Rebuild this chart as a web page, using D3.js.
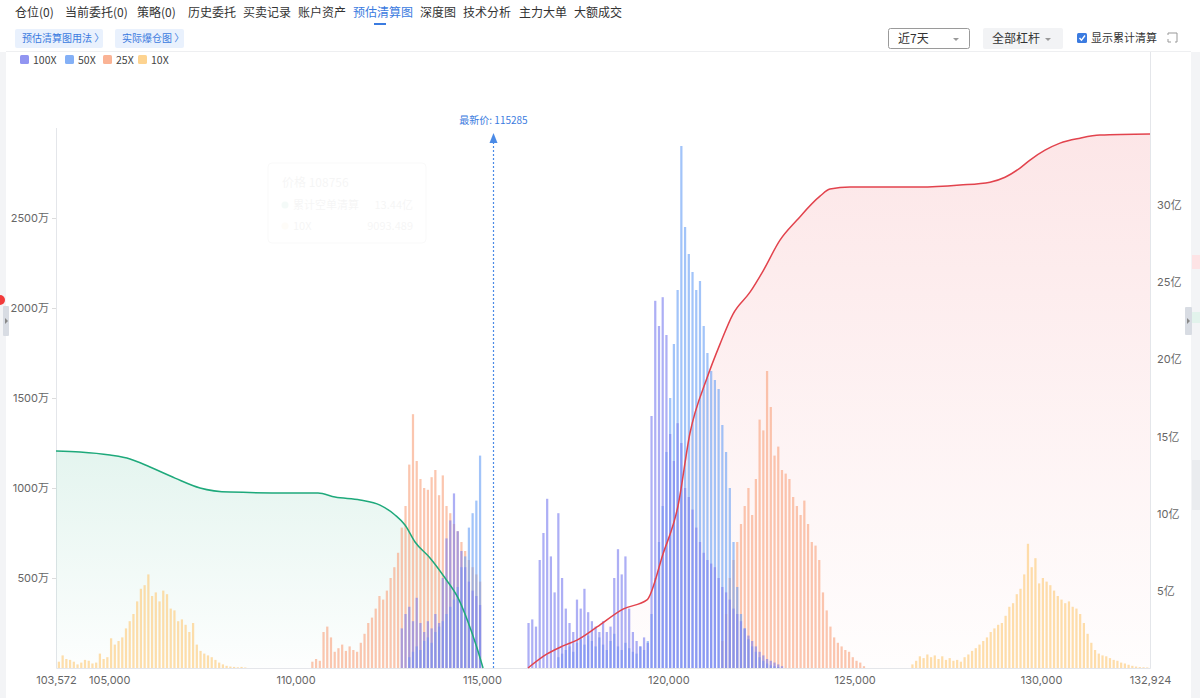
<!DOCTYPE html>
<html>
<head>
<meta charset="utf-8">
<script src="https://cdn.jsdelivr.net/npm/d3@7"></script>
<style>
  body { margin: 0; background: #fff; font-family: "Noto Sans CJK SC", "Noto Sans", sans-serif; }
</style>
</head>
<body>
<svg id="chart" width="1200" height="698"></svg>
<script>
// ---- data (liquidation amount per $100 price bin, 万) ----
var binStep = 100;

var lev100Lo_start = 112800;
var lev100Lo = [220,300,340,260,390,250,200,260,220,300,250,500,720,820,970,760,650,560,480,430,400,350];
var lev100Hi_start = 116200;
var lev100Hi = [250,270,230,600,750,940,620,420,860,500,330,250,200,380,330,440,310,260,230,200,
                260,200,230,500,660,520,620,330,200,150,120,170,140,1400,2040,1900,2060,1850,1300,1150,
                1360,1250,1000,950,880,780,700,640,600,580,560,500,450,420,380,330,300,260,220,180,
                150,120,90,70,50,40,30,20,10];

var lev50Lo_start = 113000;
var lev50Lo = [60,90,120,100,150,170,140,200,230,260,300,340,380,450,560,620,780,860,930,1180];
var lev50Hi_start = 117000;
var lev50Hi = [60,80,100,120,90,140,160,130,180,150,120,170,130,100,150,190,120,100,140,110,
               90,80,120,100,150,300,500,700,900,1200,1500,1800,2100,2900,2450,2300,2200,2100,2150,1900,
               1750,1650,1600,1550,1350,1200,1000,700,450,300,220,160,120,90,60,40,25,15,10,5];

var lev25Lo_start = 110400;
var lev25Lo = [35,50,40,200,230,170,90,110,130,95,120,100,90,140,190,250,280,330,400,380,
               430,500,560,640,780,900,1130,1410,1150,1050,1000,990,1060,1100,960,1070,900,860,800,760,
               700,650,600,560,520,480];
var lev25Hi_start = 121400;
var lev25Hi = [150,300,500,600,700,800,900,1000,850,1050,1380,1320,1650,1450,1180,1230,1100,1080,1050,950,
               900,850,930,800,700,680,600,420,320,230,170,140,120,100,90,60,40,30,10];

var lev10Lo_start = 103600;
var lev10Lo = [35,70,50,45,35,20,30,45,40,25,30,80,50,60,165,130,150,170,220,260,
               300,370,440,460,520,400,420,370,430,410,330,320,260,270,240,200,250,130,95,80,
               70,60,45,30,20,12,8,6,4,6,3];
var lev10Hi_start = 126500;
var lev10Hi = [20,40,65,55,75,60,70,50,65,45,55,40,45,35,60,75,95,110,130,150,
               170,200,220,240,250,290,340,360,410,440,520,690,560,610,470,500,480,460,430,400,
               380,360,370,340,330,300,250,190,140,100,80,70,65,55,45,40,30,25,18,12,
               8,5,4,3];

// cumulative liquidation (亿)
var shortCumPrice = [103572,104216,105021,105558,106094,106765,107436,108241,109851,110602,111058,111729,112265,112668,112936,113205,113607,114010,114359,114627,114842,115030];
var shortCumValue = [14.06,14.0,13.8,13.55,13.03,12.31,11.67,11.4,11.34,11.34,11.08,10.89,10.56,9.92,9.27,8.17,7.13,5.83,4.54,2.98,1.49,0];

var longCumPrice = [116236,116746,117175,117550,118087,118785,119428,119858,120260,120582,121038,121387,121736,122192,122541,122997,123453,124070,124338,124875,125680,126753,127826,128631,129034,129436,129704,130107,130509,131046,131582,132924];
var longCumValue = [0,0.91,1.43,1.81,2.66,3.82,4.41,7.39,10.5,15.23,18.79,20.99,22.94,24.36,25.73,27.73,29.03,30.58,31.04,31.17,31.17,31.17,31.3,31.49,31.81,32.4,32.92,33.56,34.02,34.34,34.54,34.61];

var latestPrice = 115285;
var priceTicks = [103572,105000,110000,115000,120000,125000,130000,132924];
var leftTicks = [500,1000,1500,2000,2500];
var rightTicks = [5,10,15,20,25,30];

var tabs = ["仓位(0)","当前委托(0)","策略(0)","历史委托","买卖记录","账户资产","预估清算图","深度图","技术分析","主力大单","大额成交"];
var tabX = [15,65,137,188,243,298,353,420,463,519,574];

var legendNames = ["100X","50X","25X","10X"];
var colors = { "100X": "#7e82ef", "50X": "#6ea2f5", "25X": "#f9a682", "10X": "#fdcb7c" };

// ---- svg ----
var svg = d3.select("#chart");
var defs = svg.append("defs");

// side strips
svg.append("rect").attr("x", 0).attr("y", 52).attr("width", 6).attr("height", 646).attr("fill", "#f3f4f6");
svg.append("rect").attr("x", 1191).attr("y", 52).attr("width", 9).attr("height", 646).attr("fill", "#f3f4f6");
svg.append("rect").attr("x", 1192).attr("y", 255).attr("width", 8).attr("height", 14).attr("fill", "#fde3e5");
svg.append("rect").attr("x", 1192).attr("y", 312).attr("width", 8).attr("height", 11).attr("fill", "#e2f3ec");
svg.append("rect").attr("x", 1192).attr("y", 460).attr("width", 8).attr("height", 50).attr("fill", "#eaecef");
svg.append("rect").attr("x", 1185).attr("y", 307).attr("width", 7).attr("height", 28).attr("rx", 1).attr("fill", "#d8dce3");
svg.append("path").attr("d", "M1187,318 L1190,321 L1187,324 Z").attr("fill", "#888");
svg.append("rect").attr("x", 3).attr("y", 306).attr("width", 6).attr("height", 30).attr("rx", 1).attr("fill", "#d8dce3");
svg.append("path").attr("d", "M5,318 L8,321 L5,324 Z").attr("fill", "#888");
svg.append("circle").attr("cx", 0).attr("cy", 300).attr("r", 5).attr("fill", "#f23b3b");

// tab bar
svg.selectAll("text.tab")
    .data(tabs)
    .enter()
    .append("text")
    .attr("class", "tab")
    .attr("x", function(d, i) { return tabX[i]; })
    .attr("y", 17)
    .attr("font-size", "12px")
    .attr("fill", function(d) { return d == "预估清算图" ? "#3b7be0" : "#333"; })
    .text(function(d) { return d; });
svg.append("rect").attr("x", 374).attr("y", 23).attr("width", 12).attr("height", 2).attr("fill", "#3b7be0");

// link buttons
[["预估清算图用法 〉", 15, 88], ["实际爆仓图 〉", 115, 69]].forEach(function(b) {
  svg.append("rect").attr("x", b[1]).attr("y", 29).attr("width", b[2]).attr("height", 19).attr("rx", 2).attr("fill", "#e9f1fd");
  svg.append("text").attr("x", b[1] + 7).attr("y", 42).attr("font-size", "10px").attr("fill", "#3b7be0").text(b[0]);
});
svg.append("line").attr("x1", 6).attr("x2", 1191).attr("y1", 51.5).attr("y2", 51.5).attr("stroke", "#eeeff1");

// right controls
svg.append("rect").attr("x", 888.5).attr("y", 28.5).attr("width", 81).attr("height", 20).attr("rx", 2).attr("fill", "#fff").attr("stroke", "#9a9a9a");
svg.append("text").attr("x", 898).attr("y", 43).attr("font-size", "12px").attr("fill", "#333").text("近7天");
svg.append("path").attr("d", "M953,38 L959,38 L956,41 Z").attr("fill", "#999");
svg.append("rect").attr("x", 983).attr("y", 28).attr("width", 80).attr("height", 21).attr("rx", 2).attr("fill", "#f2f3f5");
svg.append("text").attr("x", 992).attr("y", 43).attr("font-size", "12px").attr("fill", "#333").text("全部杠杆");
svg.append("path").attr("d", "M1045,38 L1051,38 L1048,41 Z").attr("fill", "#999");
svg.append("rect").attr("x", 1077).attr("y", 33).attr("width", 10).attr("height", 10).attr("rx", 1.5).attr("fill", "#3b7be0");
svg.append("path").attr("d", "M1079.5,38 L1081.5,40.2 L1085,35.5").attr("fill", "none").attr("stroke", "#fff").attr("stroke-width", 1.4);
svg.append("text").attr("x", 1091).attr("y", 42).attr("font-size", "11px").attr("fill", "#333").text("显示累计清算");
svg.append("path").attr("d", "M1168,35 L1168,33 L1177,33 L1177,42 L1175,42 M1168,39 L1168,42 L1171,42")
    .attr("fill", "none").attr("stroke", "#999").attr("stroke-width", 1);

// legend
var legX = [20, 65, 103, 138];
var leg = svg.selectAll("g.leg")
    .data(legendNames)
    .enter()
    .append("g")
    .attr("class", "leg")
    .attr("transform", function(d, i) { return "translate(" + legX[i] + ",55)"; });
leg.append("rect").attr("width", 9).attr("height", 9).attr("rx", 1.5).attr("fill", function(d) { return colors[d]; }).attr("opacity", 0.85);
leg.append("text").attr("x", 13).attr("y", 8.5).attr("font-size", "10.5px").attr("fill", "#444").text(function(d) { return d; });

// ---- scales ----
var x = d3.scaleLinear().domain([103572, 132924]).range([56, 1150]);
var yL = d3.scaleLinear().domain([0, 3000]).range([668, 128]);
var yR = d3.scaleLinear().domain([0, 35]).range([668, 128]);

// gradients
var gG = defs.append("linearGradient").attr("id", "gGreen").attr("gradientUnits", "userSpaceOnUse")
    .attr("x1", 0).attr("x2", 0).attr("y1", yR(14)).attr("y2", 668);
gG.append("stop").attr("offset", 0).attr("stop-color", "#1fa97a").attr("stop-opacity", 0.12);
gG.append("stop").attr("offset", 1).attr("stop-color", "#1fa97a").attr("stop-opacity", 0.01);
var gR = defs.append("linearGradient").attr("id", "gRed").attr("gradientUnits", "userSpaceOnUse")
    .attr("x1", 0).attr("x2", 0).attr("y1", yR(35)).attr("y2", 668);
gR.append("stop").attr("offset", 0).attr("stop-color", "#ec4c55").attr("stop-opacity", 0.14);
gR.append("stop").attr("offset", 1).attr("stop-color", "#ec4c55").attr("stop-opacity", 0.01);

// axes
var axL = svg.append("g").attr("transform", "translate(56,0)")
    .call(d3.axisLeft(yL).tickValues(leftTicks).tickSize(4).tickPadding(3).tickFormat(function(d) { return d + "万"; }));
var axR = svg.append("g").attr("transform", "translate(1150,0)")
    .call(d3.axisRight(yR).tickValues(rightTicks).tickSize(0).tickPadding(7).tickFormat(function(d) { return d + "亿"; }));
var axB = svg.append("g").attr("transform", "translate(0,668)")
    .call(d3.axisBottom(x).tickValues(priceTicks).tickSize(0).tickPadding(8).tickFormat(d3.format(",")));
[axL, axR, axB].forEach(function(a) {
  a.select(".domain").attr("stroke", "#e4e6ea");
  a.selectAll(".tick line").attr("stroke", "#dcdcdc");
  a.selectAll("text").attr("font-size", "11px").attr("fill", "#666").attr("font-family", "Inter, 'Noto Sans CJK SC', sans-serif");
});
axL.select(".domain").attr("d", "M0.5,128V668.5");
axR.select(".domain").attr("d", "M0.5,52V668.5");

// cumulative areas
function pts(ps, vs) { return ps.map(function(p, i) { return [p, vs[i]]; }); }
var shortPts = pts(shortCumPrice, shortCumValue);
var longPts = pts(longCumPrice, longCumValue);
var area = d3.area().x(function(d) { return x(d[0]); }).y0(668).y1(function(d) { return yR(d[1]); }).curve(d3.curveMonotoneX);
var line = d3.line().x(function(d) { return x(d[0]); }).y(function(d) { return yR(d[1]); }).curve(d3.curveMonotoneX);
svg.append("path").attr("d", area(shortPts)).attr("fill", "url(#gGreen)");
svg.append("path").attr("d", area(longPts)).attr("fill", "url(#gRed)");

// bars
function bins(start, vals) { return vals.map(function(v, i) { return { p: start + i * binStep, v: v }; }); }
var series = [
  ["10X", bins(lev10Lo_start, lev10Lo).concat(bins(lev10Hi_start, lev10Hi))],
  ["25X", bins(lev25Lo_start, lev25Lo).concat(bins(lev25Hi_start, lev25Hi))],
  ["50X", bins(lev50Lo_start, lev50Lo).concat(bins(lev50Hi_start, lev50Hi))],
  ["100X", bins(lev100Lo_start, lev100Lo).concat(bins(lev100Hi_start, lev100Hi))]
];
var bw = (x(binStep) - x(0)) * 0.6;
series.forEach(function(s) {
  svg.append("g").selectAll("rect")
    .data(s[1])
    .enter()
    .append("rect")
    .attr("x", function(d) { return x(d.p + binStep / 2) - bw / 2; })
    .attr("y", function(d) { return yL(d.v); })
    .attr("width", bw)
    .attr("height", function(d) { return 668 - yL(d.v); })
    .attr("fill", colors[s[0]])
    .attr("opacity", 0.64);
});

// cumulative lines
svg.append("path").attr("d", line(shortPts)).attr("fill", "none").attr("stroke", "#1ea97b").attr("stroke-width", 1.5);
svg.append("path").attr("d", line(longPts)).attr("fill", "none").attr("stroke", "#e2434d").attr("stroke-width", 1.5);

// latest price marker
var lx = Math.round(x(latestPrice)) + 0.5;
svg.append("line").attr("x1", lx).attr("x2", lx).attr("y1", 668).attr("y2", 140)
    .attr("stroke", "#4a8ae6").attr("stroke-width", 1.2).attr("stroke-dasharray", "2,2");
svg.append("path").attr("d", "M" + lx + ",133 L" + (lx - 4) + ",143 L" + (lx + 4) + ",143 Z").attr("fill", "#4a8ae6");
svg.append("text").attr("x", lx).attr("y", 124).attr("text-anchor", "middle").attr("font-size", "10px")
    .attr("fill", "#3b7be0").text("最新价: " + latestPrice);

// fading tooltip ghost
var tip = svg.append("g").attr("opacity", 0.045);
tip.append("rect").attr("x", 268).attr("y", 163).attr("width", 158).attr("height", 80).attr("rx", 4)
    .attr("fill", "#fff").attr("stroke", "#888");
tip.append("text").attr("x", 282).attr("y", 187).attr("font-size", "12px").attr("fill", "#333").text("价格 108756");
tip.append("circle").attr("cx", 285).attr("cy", 205).attr("r", 3.5).attr("fill", "#1ea97b");
tip.append("text").attr("x", 293).attr("y", 209).attr("font-size", "11px").attr("fill", "#333").text("累计空单清算");
tip.append("text").attr("x", 413).attr("y", 209).attr("text-anchor", "end").attr("font-size", "11px").attr("fill", "#333").text("13.44亿");
tip.append("circle").attr("cx", 285).attr("cy", 226).attr("r", 3.5).attr("fill", "#fdcb7c");
tip.append("text").attr("x", 293).attr("y", 230).attr("font-size", "11px").attr("fill", "#333").text("10X");
tip.append("text").attr("x", 413).attr("y", 230).attr("text-anchor", "end").attr("font-size", "11px").attr("fill", "#333").text("9093.489");
</script>
</body>
</html>
